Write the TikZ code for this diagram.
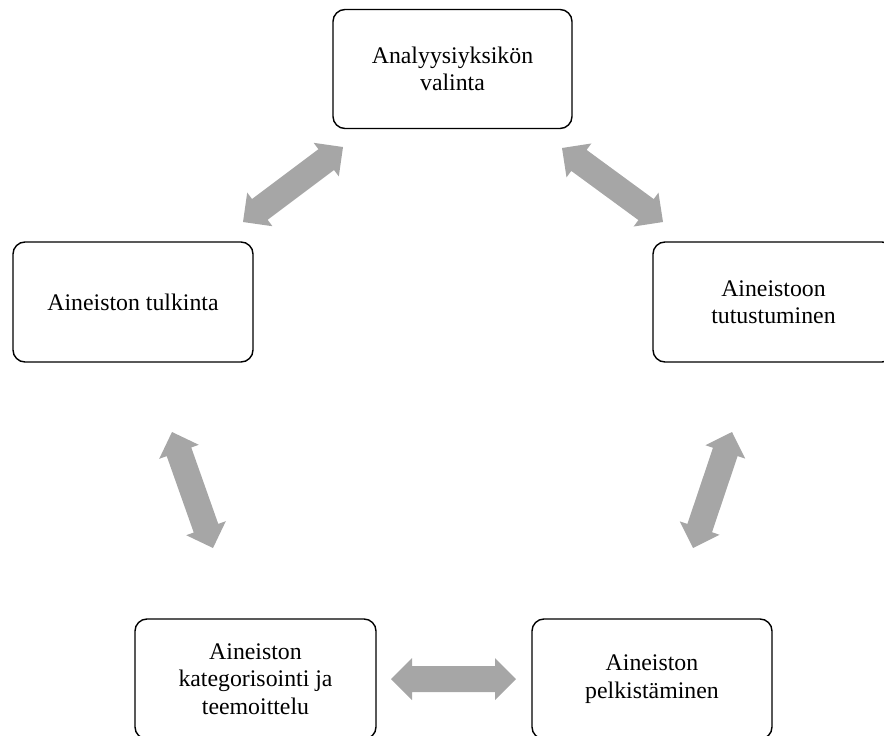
\documentclass[tikz,border=0pt]{standalone}
\usepackage{fontspec}
\setmainfont{Liberation Serif}
\usetikzlibrary{calc}
\definecolor{arrowgray}{RGB}{166,166,166}
\tikzset{
  stepbox/.style={draw=black, line width=1.4pt, rounded corners=12pt, fill=white,
    minimum width=240pt, minimum height=120pt, align=center, inner sep=2pt,
    font=\fontsize{23.8pt}{27.4pt}\selectfont},
  arrowfill/.style={fill=arrowgray, draw=none}
}
\newcommand{\blockarrow}[2]{%
  \coordinate (ha) at ($(#1)!21pt!(#2)$);
  \coordinate (hb) at ($(#2)!21pt!(#1)$);
  \fill[arrowfill] (#1) -- ($(ha)!21pt!90:(#2)$) -- ($(ha)!13pt!90:(#2)$)
    -- ($(hb)!13pt!-90:(#1)$) -- ($(hb)!21pt!-90:(#1)$) -- (#2)
    -- ($(hb)!21pt!90:(#1)$) -- ($(hb)!13pt!90:(#1)$)
    -- ($(ha)!13pt!-90:(#2)$) -- ($(ha)!21pt!-90:(#2)$) -- cycle;
}
\begin{document}
\begin{tikzpicture}[x=1pt,y=-1pt]
\useasboundingbox (0,0) rectangle (884,736);
\node[stepbox, minimum width=239pt, minimum height=119pt] (top) at (452.5,69) {Analyysiyksikön\\valinta};
\node[stepbox] (left) at (133,302) {Aineiston tulkinta};
\node[stepbox, minimum width=241pt] (right) at (773.5,302) {Aineistoon\\tutustuminen};
\node[stepbox, minimum width=241pt] (bl) at (255.5,679) {Aineiston\\kategorisointi ja\\teemoittelu};
\node[stepbox] (br) at (652,679) {Aineiston\\pelkistäminen};
% arrow end points
\coordinate (a1s) at (243,222);
\coordinate (a1e) at (343,147);
\coordinate (a2s) at (562,148);
\coordinate (a2e) at (663,222);
\coordinate (a3s) at (172,432);
\coordinate (a3e) at (213,548);
\coordinate (a4s) at (732,432);
\coordinate (a4e) at (693,548);
\coordinate (a5s) at (391,679);
\coordinate (a5e) at (516,679);
\blockarrow{a1s}{a1e}
\blockarrow{a2s}{a2e}
\blockarrow{a3s}{a3e}
\blockarrow{a4s}{a4e}
\blockarrow{a5s}{a5e}
\end{tikzpicture}
\end{document}
